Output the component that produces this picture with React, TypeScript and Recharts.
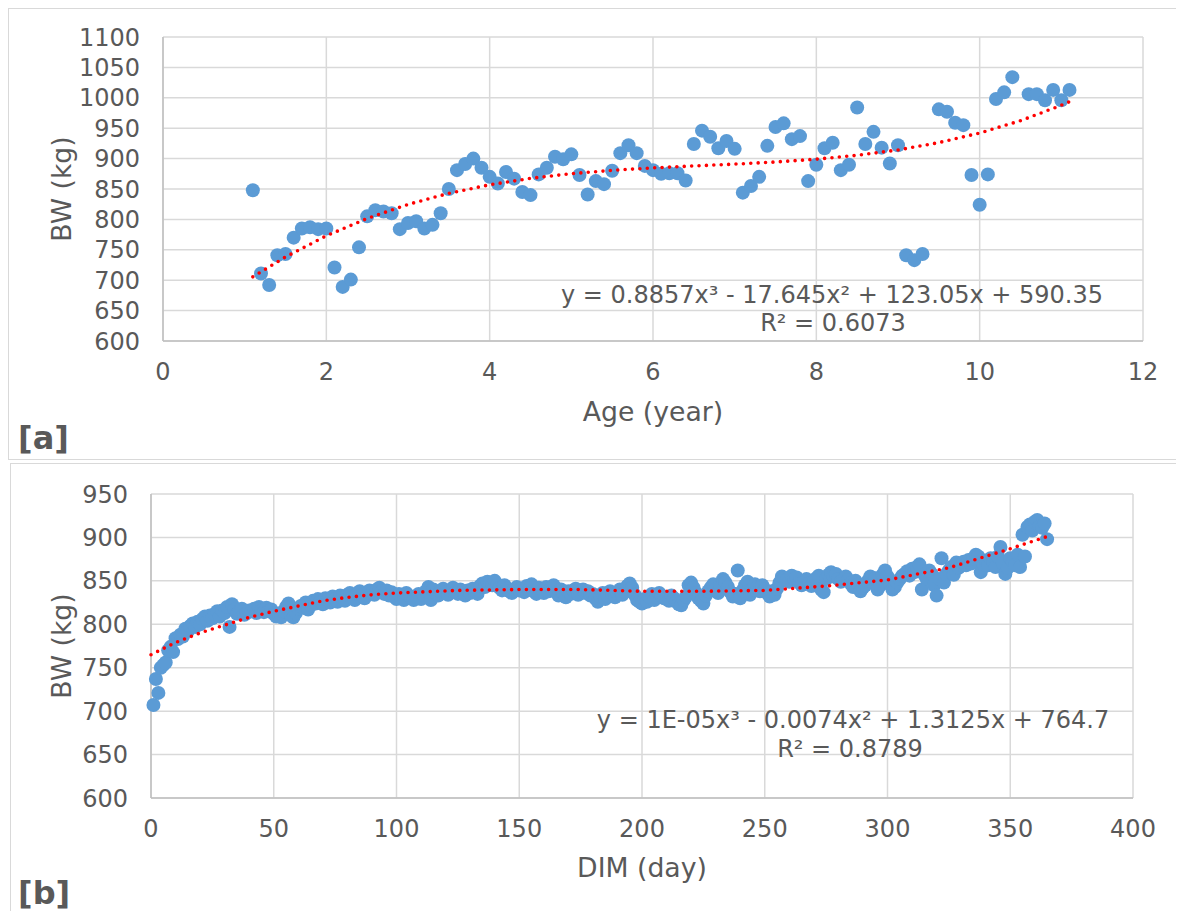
import React from 'react';
import { ScatterChart, Scatter, XAxis, YAxis, CartesianGrid } from 'recharts';

const FONT = '"DejaVu Sans", Verdana, sans-serif';
const TEXT = '#595959';
const BLUE = '#5b9bd5';
const GRID = '#d9d9d9';

// Panel [a]: Age (year) vs BW (kg)
const AGE_X = [
  1.1, 1.2, 1.3, 1.4, 1.5, 1.6, 1.7, 1.8, 1.9, 2.0,
  2.1, 2.2, 2.3, 2.4, 2.5, 2.6, 2.7, 2.8, 2.9, 3.0,
  3.1, 3.2, 3.3, 3.4, 3.5, 3.6, 3.7, 3.8, 3.9, 4.0,
  4.1, 4.2, 4.3, 4.4, 4.5, 4.6, 4.7, 4.8, 4.9, 5.0,
  5.1, 5.2, 5.3, 5.4, 5.5, 5.6, 5.7, 5.8, 5.9, 6.0,
  6.1, 6.2, 6.3, 6.4, 6.5, 6.6, 6.7, 6.8, 6.9, 7.0,
  7.1, 7.2, 7.3, 7.4, 7.5, 7.6, 7.7, 7.8, 7.9, 8.0,
  8.1, 8.2, 8.3, 8.4, 8.5, 8.6, 8.7, 8.8, 8.9, 9.0,
  9.1, 9.2, 9.3, 9.5, 9.6, 9.7, 9.8, 9.9, 10.0, 10.1,
  10.2, 10.3, 10.4, 10.6, 10.7, 10.8, 10.9, 11.0, 11.1,
];
const AGE_BW = [
  848, 711, 692, 741, 743, 770, 785, 787, 784, 785,
  721, 689, 701, 754, 805, 815, 813, 810, 784, 794,
  797, 785, 791, 810, 850, 881, 891, 900, 885, 870,
  859, 878, 867, 845, 840, 874, 885, 903, 899, 907,
  873, 841, 863, 858, 880, 909, 922, 909, 888, 881,
  875, 876, 876, 864, 924, 946, 936, 917, 929, 916,
  844, 855, 870, 921, 952, 958, 932, 937, 863, 890,
  917, 926, 881, 890, 984, 924, 944, 918, 892, 922,
  741, 733, 743, 981, 977, 959, 955, 873, 824, 874,
  998, 1009, 1034, 1006, 1006, 996, 1013, 996, 1013,
];
const AGE_TREND_X = [1.1, 1.5, 2, 2.5, 3, 3.5, 4, 4.5, 5, 5.5, 6, 6.5, 7, 7.5, 8, 8.5, 9, 9.5, 10, 10.5, 11, 11.1];
const AGE_TREND_Y = [705.5, 738.2, 773.0, 801.5, 824.6, 842.9, 856.9, 867.5, 875.2, 880.7, 884.7, 887.9, 890.9, 894.4, 899.0, 905.4, 914.2, 926.3, 942.1, 962.3, 987.7, 993.5];
const AGE_TICKS = [0, 2, 4, 6, 8, 10, 12];
const AGE_BW_TICKS = [600, 650, 700, 750, 800, 850, 900, 950, 1000, 1050, 1100];

// Panel [b]: DIM (day) vs BW (kg), one value per day from day 1
const DIM_BW = [
  707, 737, 721, 750, 753, 756, 770, 774, 768, 784,
  783, 788, 786, 795, 792, 798, 801, 797, 803, 800,
  806, 809, 804, 810, 807, 812, 815, 809, 816, 813,
  820, 797, 823, 817, 812, 815, 818, 811, 813, 816,
  815, 818, 813, 820, 816, 814, 819, 815, 817, 812,
  809, 811, 808, 815, 820, 824, 810, 808, 813, 818,
  821, 819, 825, 817, 822, 827, 824, 829, 826, 823,
  830, 828, 825, 832, 829, 826, 833, 830, 827, 834,
  836, 831, 828, 835, 838, 833, 830, 837, 839, 836,
  834, 840, 842, 838, 835, 839, 833, 837, 832, 829,
  835, 831, 828, 836, 833, 830, 828, 832, 835, 829,
  834, 838, 843, 828, 840, 836, 833, 838, 841, 837,
  834, 839, 842, 837, 835, 840, 838, 833, 839, 836,
  841, 838, 835, 844, 847, 843, 849, 848, 845, 850,
  846, 842, 839, 845, 841, 838, 836, 840, 843, 839,
  841, 837, 844, 840, 846, 838, 835, 842, 839, 836,
  843, 838, 841, 845, 837, 833, 840, 836, 831, 838,
  835, 839, 841, 834, 837, 840, 836, 838, 833, 835,
  830, 826, 832, 836, 829, 833, 838, 835, 831, 836,
  840, 834, 837, 844, 847, 842, 834, 828, 826, 824,
  829, 826, 832, 835, 828, 831, 836, 833, 830, 829,
  827, 833, 830, 826, 823, 822, 828, 832, 845, 848,
  842, 836, 830, 827, 824, 833, 838, 842, 846, 840,
  836, 844, 852, 848, 843, 837, 832, 835, 862, 830,
  839, 845, 849, 834, 840, 846, 843, 838, 845, 840,
  836, 832, 838, 834, 841, 848, 855, 853, 851, 849,
  856, 852, 854, 848, 845, 850, 852, 847, 844, 849,
  853, 856, 840, 837, 852, 857, 860, 855, 858, 852,
  849, 853, 855, 851, 847, 843, 850, 846, 838, 842,
  845, 850, 855, 848, 853, 840, 845, 857, 862, 855,
  846, 840, 843, 848, 852, 856, 858, 861, 856, 864,
  860, 866, 869, 840, 857, 852, 862, 858, 845, 833,
  852, 876, 848, 858, 862, 866, 857, 871, 865, 868,
  872, 868, 874, 870, 876, 880, 878, 860, 869, 873,
  868, 876, 872, 866, 878, 889, 870, 858, 865, 876,
  872, 868, 880, 866, 903, 878, 912, 915, 908, 918,
  920, 913, 911, 916, 898,
];
const DIM_TREND_X = [0, 10, 20, 30, 40, 50, 60, 70, 80, 90, 100, 125, 150, 175, 200, 225, 250, 275, 300, 325, 350, 365];
const DIM_TREND_Y = [765, 779, 790, 799, 808, 815, 821, 827, 831, 834, 836, 839, 840, 840, 838, 838, 839, 844, 851, 865, 887, 901];
const DIM_TICKS = [0, 50, 100, 150, 200, 250, 300, 350, 400];
const DIM_BW_TICKS = [600, 650, 700, 750, 800, 850, 900, 950];

const ageData = AGE_X.map((x, i) => ({ x, y: AGE_BW[i] }));
const ageTrend = AGE_TREND_X.map((x, i) => ({ x, y: AGE_TREND_Y[i] }));
const dimData = DIM_BW.map((y, i) => ({ x: i + 1, y }));
const dimTrend = DIM_TREND_X.map((x, i) => ({ x, y: DIM_TREND_Y[i] }));

const tickStyle = { fill: TEXT, fontSize: 24, fontFamily: FONT };
const axisLineStyle = { stroke: '#bfbfbf', strokeWidth: 1.5 };
const trendLine = { stroke: '#ff0000', strokeWidth: 3.6, strokeDasharray: '0 7.4', strokeLinecap: 'round' as const };

const Dot = (p: any) => <circle cx={p.cx} cy={p.cy} r={7} fill={BLUE} />;
const NoShape = () => <g />;

const abs = (left: number, top: number, extra: React.CSSProperties = {}): React.CSSProperties => ({
  position: 'absolute',
  left,
  top,
  transform: 'translate(-50%, -50%)',
  whiteSpace: 'nowrap',
  lineHeight: 1,
  ...extra,
});

export default function App() {
  return (
    <div style={{ position: 'relative', width: 1176, height: 903, fontFamily: FONT, color: TEXT }}>
      <div style={{ position: 'absolute', left: 0, top: 0, width: 1174, height: 450, border: `1px solid ${GRID}` }} />
      <div style={{ position: 'absolute', left: 2, top: 455, width: 1172, height: 460, border: `1px solid ${GRID}` }} />

      <div style={{ position: 'absolute', left: 0, top: 0 }}>
        <ScatterChart width={1176} height={452} margin={{ top: 29, right: 41, bottom: 79, left: 75 }}>
          <CartesianGrid stroke={GRID} strokeWidth={1.5} />
          <XAxis type="number" dataKey="x" domain={[0, 12]} ticks={AGE_TICKS} tick={tickStyle} interval={0}
            axisLine={axisLineStyle} tickLine={false} tickSize={0} tickMargin={22} height={40} />
          <YAxis type="number" dataKey="y" domain={[600, 1100]} ticks={AGE_BW_TICKS} tick={tickStyle} interval={0}
            axisLine={axisLineStyle} tickLine={false} tickSize={0} tickMargin={23} width={80} />
          <Scatter data={ageData} shape={Dot} isAnimationActive={false} />
          <Scatter data={ageTrend} line={trendLine} shape={NoShape} isAnimationActive={false} />
        </ScatterChart>
      </div>

      <div style={{ position: 'absolute', left: 0, top: 455 }}>
        <ScatterChart width={1176} height={448} margin={{ top: 31, right: 51, bottom: 73, left: 63 }}>
          <CartesianGrid stroke={GRID} strokeWidth={1.5} />
          <XAxis type="number" dataKey="x" domain={[0, 400]} ticks={DIM_TICKS} tick={tickStyle} interval={0}
            axisLine={axisLineStyle} tickLine={false} tickSize={0} tickMargin={22} height={40} />
          <YAxis type="number" dataKey="y" domain={[600, 950]} ticks={DIM_BW_TICKS} tick={tickStyle} interval={0}
            axisLine={axisLineStyle} tickLine={false} tickSize={0} tickMargin={23} width={80} />
          <Scatter data={dimData} shape={Dot} isAnimationActive={false} />
          <Scatter data={dimTrend} line={trendLine} shape={NoShape} isAnimationActive={false} />
        </ScatterChart>
      </div>

      {/* Panel a texts */}
      <div style={abs(54, 181, { fontSize: 26.7, transform: 'translate(-50%, -50%) rotate(-90deg)' })}>BW (kg)</div>
      <div style={abs(645, 404, { fontSize: 26.7 })}>Age (year)</div>
      <div style={abs(824, 287, { fontSize: 24 })}>y = 0.8857x³ - 17.645x² + 123.05x + 590.35</div>
      <div style={abs(825, 315, { fontSize: 24 })}>R² = 0.6073</div>
      <div style={{ position: 'absolute', left: 10, top: 430, transform: 'translateY(-50%)', fontSize: 32, fontWeight: 'bold', lineHeight: 1 }}>[a]</div>

      {/* Panel b texts */}
      <div style={abs(54, 638, { fontSize: 26.7, transform: 'translate(-50%, -50%) rotate(-90deg)' })}>BW (kg)</div>
      <div style={abs(634, 860, { fontSize: 26.7 })}>DIM (day)</div>
      <div style={abs(845, 712, { fontSize: 24 })}>y = 1E-05x³ - 0.0074x² + 1.3125x + 764.7</div>
      <div style={abs(842, 741, { fontSize: 24 })}>R² = 0.8789</div>
      <div style={{ position: 'absolute', left: 10, top: 885, transform: 'translateY(-50%)', fontSize: 32, fontWeight: 'bold', lineHeight: 1 }}>[b]</div>
    </div>
  );
}
